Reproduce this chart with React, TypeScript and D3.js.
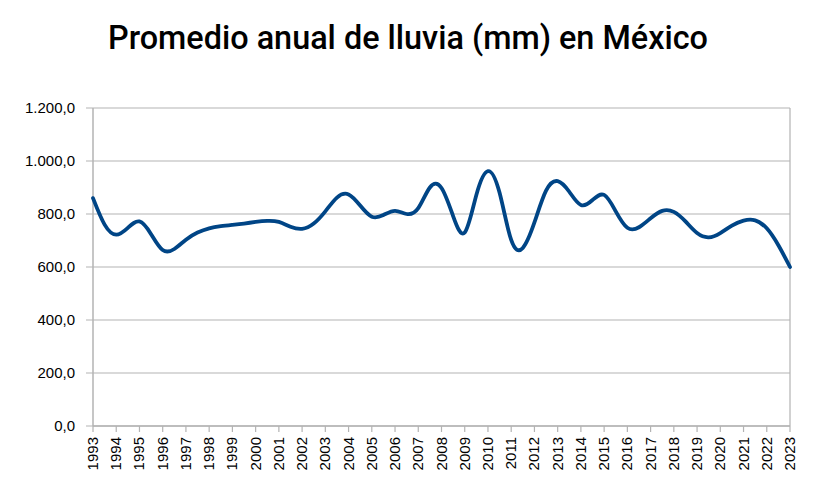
import * as d3 from "d3";

// semi-annual readings of the smoothed series (mm)
const years = d3.range(1993, 2024);
const times = d3.range(0, 61).map(i => 1993 + i / 2);
const rainfall = [
  860, 760, 722, 748, 772, 724, 664, 668, 703, 730,
  746, 754, 759, 764, 770, 774, 770, 752, 744, 764,
  810, 862, 874, 832, 790, 796, 812, 800, 822, 900,
  898, 792, 730, 872, 962, 880, 702, 672, 768, 888,
  924, 884, 834, 853, 872, 810, 748, 750, 784, 812,
  808, 772, 728, 712, 728, 756, 775, 776, 746, 682,
  600,
];
const yTicks = [0, 200, 400, 600, 800, 1000, 1200];

const title = "Promedio anual de lluvia (mm) en México";

const W = 822;
const H = 500;
const margin = {top: 108, right: 32, bottom: 74, left: 93};

const fmt = (v: number) => {
  const s = v.toFixed(1).replace(".", ",");
  const [int, dec] = s.split(",");
  return int.replace(/\B(?=(\d{3})+(?!\d))/g, ".") + "," + dec;
};

export default function App() {
  const x = d3.scaleLinear().domain([1993, 2023]).range([margin.left, W - margin.right]);
  const y = d3.scaleLinear().domain([0, 1200]).range([H - margin.bottom, margin.top]);

  const line = d3.line<number>()
    .x((_, i) => x(times[i]))
    .y(d => y(d))
    .curve(d3.curveNatural);

  const axisColor = "#b3b3b3";
  const x0 = margin.left;
  const x1 = W - margin.right;
  const yb = H - margin.bottom;

  return (
    <svg width={W} height={H} style={{position: "absolute", left: 0, top: 0, background: "#fff"}}
         fontFamily="'Liberation Sans', Arial, sans-serif">
      <text x={408} y={49} textAnchor="middle" fontFamily="Roboto, 'DejaVu Sans Condensed', sans-serif"
            fontWeight={500} fontSize={34} textLength={600} lengthAdjust="spacingAndGlyphs" fill="#000">
        {title}
      </text>

      {yTicks.map(t => (
        <g key={t}>
          <line x1={x0 - 7} x2={x1} y1={y(t)} y2={y(t)} stroke={axisColor} strokeWidth={1.2}/>
          <text x={75} y={y(t)} dy="0.36em" textAnchor="end" fontSize={15} fill="#000">{fmt(t)}</text>
        </g>
      ))}

      <line x1={x0} x2={x0} y1={y(1200)} y2={yb} stroke={axisColor} strokeWidth={1.5}/>
      <line x1={x1} x2={x1} y1={y(1200)} y2={yb} stroke={axisColor} strokeWidth={1.2}/>
      <line x1={x0} x2={x1} y1={yb} y2={yb} stroke={axisColor} strokeWidth={1.5}/>

      {years.map(yr => (
        <g key={yr}>
          <line x1={x(yr)} x2={x(yr)} y1={yb} y2={yb + 6} stroke={axisColor} strokeWidth={1.2}/>
          <text transform={`translate(${x(yr) + 5},${yb + 11}) rotate(-90)`} textAnchor="end"
                fontSize={15} fill="#000">{yr}</text>
        </g>
      ))}

      <path d={line(rainfall) ?? ""} fill="none" stroke="#004586" strokeWidth={3.8}
            strokeLinejoin="round" strokeLinecap="round"/>
    </svg>
  );
}
